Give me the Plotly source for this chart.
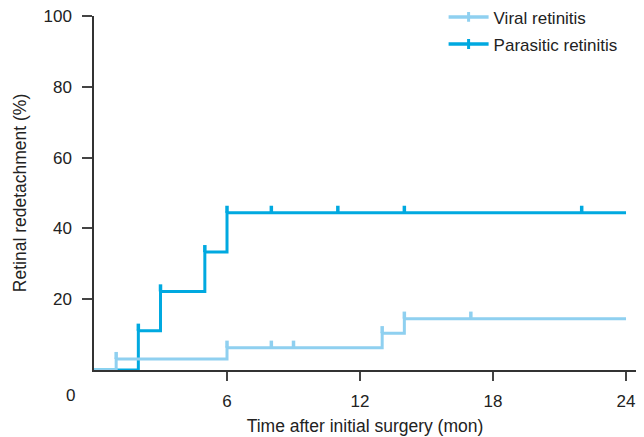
import plotly.graph_objects as go

# ---- data ----
viral_months = [0, 1, 6, 13, 14, 24]
viral_pct = [0, 3.1, 6.3, 10.4, 14.5, 14.5]
viral_censor = [1, 6, 8, 9, 13, 14, 17]

parasitic_months = [0, 2, 3, 5, 6, 24]
parasitic_pct = [0, 11.1, 22.2, 33.3, 44.4, 44.4]
parasitic_censor = [2, 3, 5, 6, 8, 11, 14, 22]

x_ticks = [6, 12, 18, 24]
y_ticks = [20, 40, 60, 80, 100]

LIGHT = "#8fd0f0"
DARK = "#00a9e0"
FONT = "Liberation Sans, Arial, sans-serif"
TXT = "#222222"


def f(size):
    return dict(family=FONT, size=size, color=TXT)


def step_value(xs, ys, t):
    v = ys[0]
    for x, y in zip(xs, ys):
        if x <= t:
            v = y
    return v


fig = go.Figure()


def add_series(name, xs, ys, censor, color, rank):
    fig.add_trace(go.Scatter(x=xs, y=ys, mode="lines", line=dict(color=color, width=3, shape="hv"),
                             showlegend=False, hoverinfo="skip"))
    cy = [step_value(xs, ys, t) for t in censor]
    fig.add_trace(go.Scatter(x=censor, y=cy, mode="markers", marker=dict(size=0.1, color=color),
                             error_y=dict(type="data", symmetric=False, array=[2.0] * len(censor),
                                          arrayminus=[0] * len(censor), color=color, thickness=3.5, width=0),
                             showlegend=False, hoverinfo="skip"))
    # legend entry
    fig.add_trace(go.Scatter(x=[None], y=[None], mode="lines+markers", name=name,
                             line=dict(color=color, width=3.5),
                             marker=dict(symbol="line-ns", size=7, line=dict(color=color, width=3)),
                             legendgroup=name, legendrank=rank))


add_series("Parasitic retinitis", parasitic_months, parasitic_pct, parasitic_censor, DARK, 2)
add_series("Viral retinitis", viral_months, viral_pct, viral_censor, LIGHT, 1)

fig.add_annotation(x=0, y=0, xref="x", yref="y", text="0", showarrow=False,
                   xshift=-24, yshift=-25, font=f(17))

fig.update_layout(
    width=644, height=437,
    margin=dict(l=94, r=8, t=16, b=67, autoexpand=False),
    paper_bgcolor="white", plot_bgcolor="white",
    font=f(16),
    legend=dict(x=0.645, y=1.047, xanchor="left", yanchor="top", bgcolor="rgba(0,0,0,0)",
                tracegroupgap=2, itemwidth=40, font=f(17)),
    xaxis=dict(range=[0, 24.45], tickvals=x_ticks, ticks="outside", ticklen=9, tickwidth=1.5,
               tickcolor="#444", showline=True, linecolor="#333", linewidth=1.5, showgrid=False,
               zeroline=False, layer="below traces", automargin=False, ticklabelstandoff=6,
               tickfont=f(17),
               title=dict(text="Time after initial surgery (mon)", standoff=10, font=f(17.5))),
    yaxis=dict(range=[0, 100], tickvals=y_ticks, ticks="outside", ticklen=10, tickwidth=1.5,
               tickcolor="#444", showline=True, linecolor="#333", linewidth=1.5, showgrid=False,
               zeroline=False, layer="below traces", automargin=False, ticklabelstandoff=7,
               tickfont=f(17),
               title=dict(text="Retinal redetachment (%)", standoff=12, font=f(17.5))),
)

fig.write_html("out.html", config={"displayModeBar": False},
               post_script="document.body.style.margin='0px';")
